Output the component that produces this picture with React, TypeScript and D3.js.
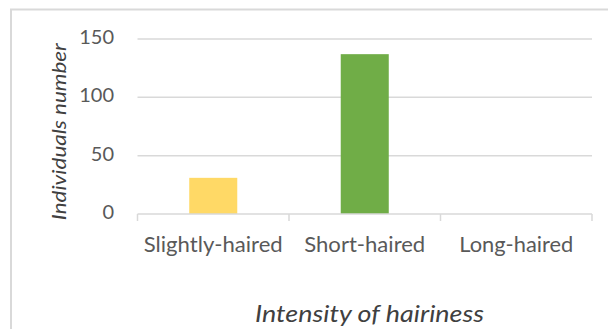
import React from "react";
import * as d3 from "d3";

const categories = ["Slightly-haired", "Short-haired", "Long-haired"];
const counts = [31, 137, 0];
const barColors = ["#FFD966", "#70AD47", "#A5A5A5"];
const yTicks = [0, 50, 100, 150];

const W = 608;
const H = 329;
const plot = { left: 137.5, right: 592, top: 39, bottom: 214 };
const font = "Lato, 'Open Sans', sans-serif";
// rendered widths of the category labels (narrow Calibri-like setting)
const labelWidths = [139, 121, 114];

export default function App() {
  const x = d3
    .scaleBand<string>()
    .domain(categories)
    .range([plot.left, plot.right])
    .paddingInner(0)
    .paddingOuter(0);
  const y = d3.scaleLinear().domain([0, 150]).range([plot.bottom, plot.top]);
  const bw = x.bandwidth() * 0.317;
  const tickXs = [...categories.map((c) => x(c) as number), plot.right];

  return (
    <svg
      width={W}
      height={H}
      style={{ position: "absolute", left: 0, top: 0, background: "#fff" }}
    >
      <rect x={11} y={9.5} width={700} height={400} fill="#fff" stroke="#d9d9d9" strokeWidth={2} />
      {yTicks.slice(1).map((t) => (
        <line key={t} x1={plot.left} x2={plot.right} y1={y(t)} y2={y(t)} stroke="#d9d9d9" strokeWidth={1.5} />
      ))}
      {categories.map((c, i) => (
        <rect
          key={c}
          x={(x(c) as number) + (x.bandwidth() - bw) / 2}
          y={y(counts[i])}
          width={bw}
          height={plot.bottom - y(counts[i])}
          fill={barColors[i]}
        />
      ))}
      <line x1={plot.left} x2={plot.right} y1={plot.bottom} y2={plot.bottom} stroke="#d9d9d9" strokeWidth={1.5} />
      {tickXs.map((tx, i) => (
        <line key={i} x1={tx} x2={tx} y1={plot.bottom} y2={plot.bottom + 7} stroke="#d9d9d9" strokeWidth={1.5} />
      ))}
      {yTicks.map((t) => (
        <text key={t} x={114} y={y(t) + 5} textAnchor="end" fontFamily={font} fontSize={20} fill="#595959">
          {t}
        </text>
      ))}
      {categories.map((c, i) => (
        <text
          key={c}
          x={(x(c) as number) + x.bandwidth() / 2}
          y={252}
          textAnchor="middle"
          fontFamily={font}
          fontSize={20.5}
          textLength={labelWidths[i]}
          lengthAdjust="spacingAndGlyphs"
          fill="#595959"
        >
          {c}
        </text>
      ))}
      <text
        x={369.5}
        y={321.5}
        textAnchor="middle"
        fontFamily={font}
        fontStyle="italic"
        fontSize={23}
        textLength={229}
        lengthAdjust="spacingAndGlyphs"
        fill="#404040"
      >
        Intensity of hairiness
      </text>
      <text
        transform={`translate(65.5, 131.7) rotate(-90)`}
        textAnchor="middle"
        fontFamily={font}
        fontStyle="italic"
        fontSize={19.5}
        textLength={177}
        lengthAdjust="spacingAndGlyphs"
        fill="#404040"
      >
        Individuals number
      </text>
    </svg>
  );
}
